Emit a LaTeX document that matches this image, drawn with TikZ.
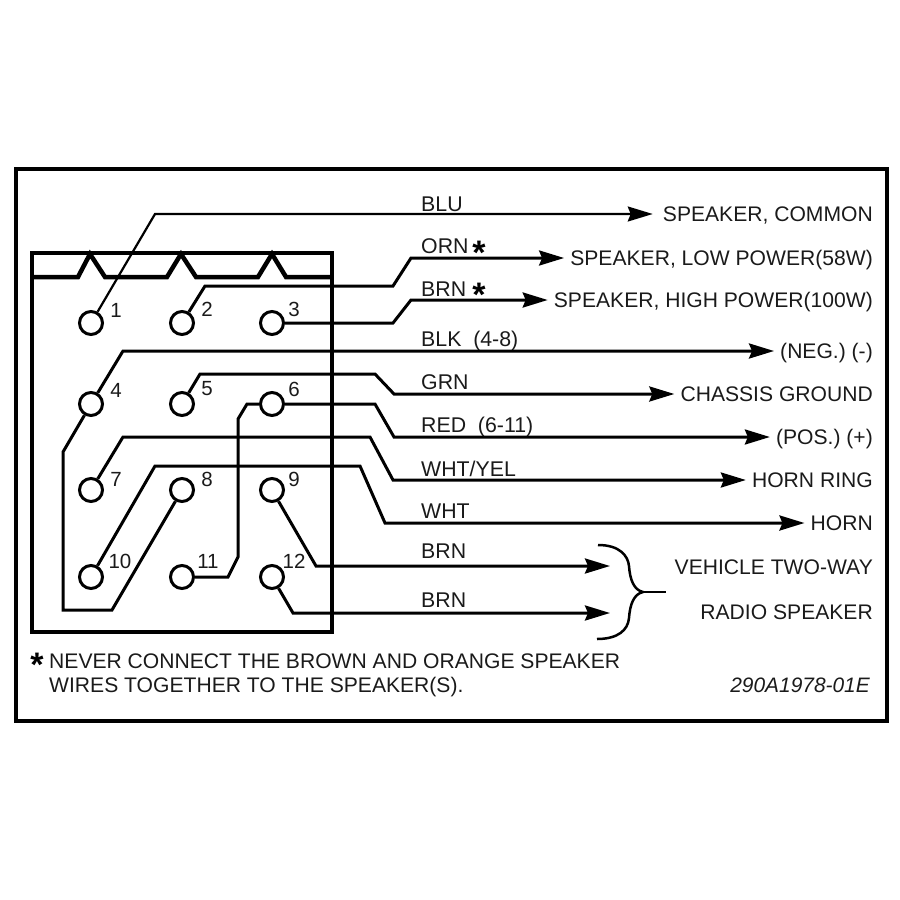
\documentclass[tikz,border=0pt]{standalone}
\usepackage{fontspec}
\setmainfont{Liberation Sans}
\usetikzlibrary{arrows.meta}
\definecolor{ink}{HTML}{1A1A1A}
\tikzset{
  frame/.style={draw=black,line width=4.5pt,line join=miter},
  term/.style={circle,draw=black,line width=3pt,minimum size=23pt,inner sep=0pt},
  wire/.style={draw=black,line width=3pt,line join=miter},
  thinwire/.style={wire,line width=2.2pt},
  arrow/.style={-{Stealth[length=25pt,width=15pt,inset=3pt]}},
  num/.style={font=\fontsize{20.5}{20}\selectfont,text=ink,inner sep=0pt},
  tag/.style={font=\fontsize{21.3}{22}\selectfont,text=ink,anchor=base west,inner sep=0pt},
  dest/.style={font=\fontsize{21.1}{22}\selectfont,text=ink,anchor=east,inner ysep=0pt,inner xsep=6pt,text height=15pt,text depth=0pt},
  note/.style={font=\fontsize{21.1}{22}\selectfont,text=ink,anchor=base west,inner sep=0pt},
  star/.style={font=\fontsize{34}{34}\selectfont\bfseries,text=black,inner sep=0pt,anchor=base}
}
\begin{document}
\begin{tikzpicture}[x=1pt,y=-1pt]
\useasboundingbox (0,0) rectangle (900,900);
\draw[frame] (16,169) rectangle (887,721);
\draw[frame] (32,253) rectangle (332,632);
\draw[frame] (32,277) -- (78,277) -- (90,254) -- (105,277) -- (167,277) -- (181,254) -- (196,277) -- (258,277) -- (272,254) -- (286,277) -- (332,277);

% terminals
\node[term] (t1) at (91,323) {};
\node[term] (t2) at (182,323) {};
\node[term] (t3) at (272,323) {};
\node[term] (t4) at (91,404) {};
\node[term] (t5) at (182,404) {};
\node[term] (t6) at (272,404) {};
\node[term] (t7) at (91,490) {};
\node[term] (t8) at (182,490) {};
\node[term] (t9) at (272,490) {};
\node[term] (t10) at (91,577) {};
\node[term] (t11) at (182,577) {};
\node[term] (t12) at (272,577) {};

\node[num] (n1) at (116,310) {1};
\node[num] (n2) at (207,309) {2};
\node[num] (n3) at (294,309) {3};
\node[num] (n4) at (116,390) {4};
\node[num] (n5) at (207,389) {5};
\node[num] (n6) at (294,389) {6};
\node[num] (n7) at (116,479) {7};
\node[num] (n8) at (207,479) {8};
\node[num] (n9) at (294,479) {9};
\node[num] (n10) at (120,561) {10};
\node[num] (n11) at (208,561) {11};
\node[num] (n12) at (294,561) {12};

% destinations
\node[dest,inner xsep=10pt] (dblu) at (883,214) {SPEAKER, COMMON};
\node[dest] (dorn) at (879,258) {SPEAKER, LOW POWER(58W)};
\node[dest] (dbrn) at (879,300) {SPEAKER, HIGH POWER(100W)};
\node[dest] (dblk) at (879,351) {(NEG.) (-)};
\node[dest] (dgrn) at (879,394) {CHASSIS GROUND};
\node[dest] (dred) at (879,437) {(POS.) (+)};
\node[dest] (dwy) at (879,480) {HORN RING};
\node[dest] (dwht) at (879,523) {HORN};
\node[dest] (dv) at (879,567) {VEHICLE TWO-WAY};
\node[dest] (dr) at (879,612) {RADIO SPEAKER};

% wire tags
\node[tag] at (421,211) {BLU};
\node[tag] at (421,253) {ORN};
\node[tag] at (421,296) {BRN};
\node[tag] at (421,346) {BLK\ \ (4-8)};
\node[tag] at (421,389) {GRN};
\node[tag] at (421,432) {RED\ \ (6-11)};
\node[tag] at (421,476) {WHT/YEL};
\node[tag] at (421,518) {WHT};
\node[tag] at (421,558) {BRN};
\node[tag] at (421,607) {BRN};
\node[star] at (479,264) {*};
\node[star] at (479,306) {*};
\node[star] at (37,676) {*};

% wires
\draw[thinwire,arrow] (t1) -- (155,214) -- (dblu.west);
\draw[wire,arrow] (t2) -- (205,286) -- (393,286) -- (411,258) -- (dorn.west);
\draw[wire,arrow] (t3) -- (393,323) -- (411,300) -- (dbrn.west);
\draw[wire,arrow] (t4) -- (123,351) -- (dblk.west);
\draw[wire] (t4) -- (63,452) -- (63,610) -- (112,610) -- (t8);
\draw[wire,arrow] (t5) -- (200,374) -- (375,374) -- (394,394) -- (dgrn.west);
\draw[wire,arrow] (t6) -- (375,404) -- (394,437) -- (dred.west);
\draw[wire] (t6) -- (247,404) -- (238,419) -- (238,557) -- (228,577) -- (t11);
\draw[wire,arrow] (t7) -- (123,437) -- (370,437) -- (393,480) -- (dwy.west);
\draw[wire,arrow] (t10) -- (155,466) -- (360,466) -- (385,523) -- (dwht.west);
\draw[wire,arrow] (t9) -- (316,566) -- (610,566);
\draw[wire,arrow] (t12) -- (293,613) -- (610,613);

% brace
\draw[draw=black,line width=2.5pt] (598,545) .. controls (620,545) and (628,556) .. (629,566) .. controls (630,580) and (634,590) .. (643,592) .. controls (634,594) and (630,604) .. (629,618) .. controls (628,630) and (618,639) .. (597,639);
\draw[draw=black,line width=2.5pt] (642,592) -- (666,592);

% note
\node[note] at (49,668) {NEVER CONNECT THE BROWN AND ORANGE SPEAKER};
\node[note] at (49,692) {WIRES TOGETHER TO THE SPEAKER(S).};
\node[note,anchor=base east,font=\fontsize{20.9}{22}\selectfont\itshape] at (870,692) {290A1978-01E};
\end{tikzpicture}
\end{document}
